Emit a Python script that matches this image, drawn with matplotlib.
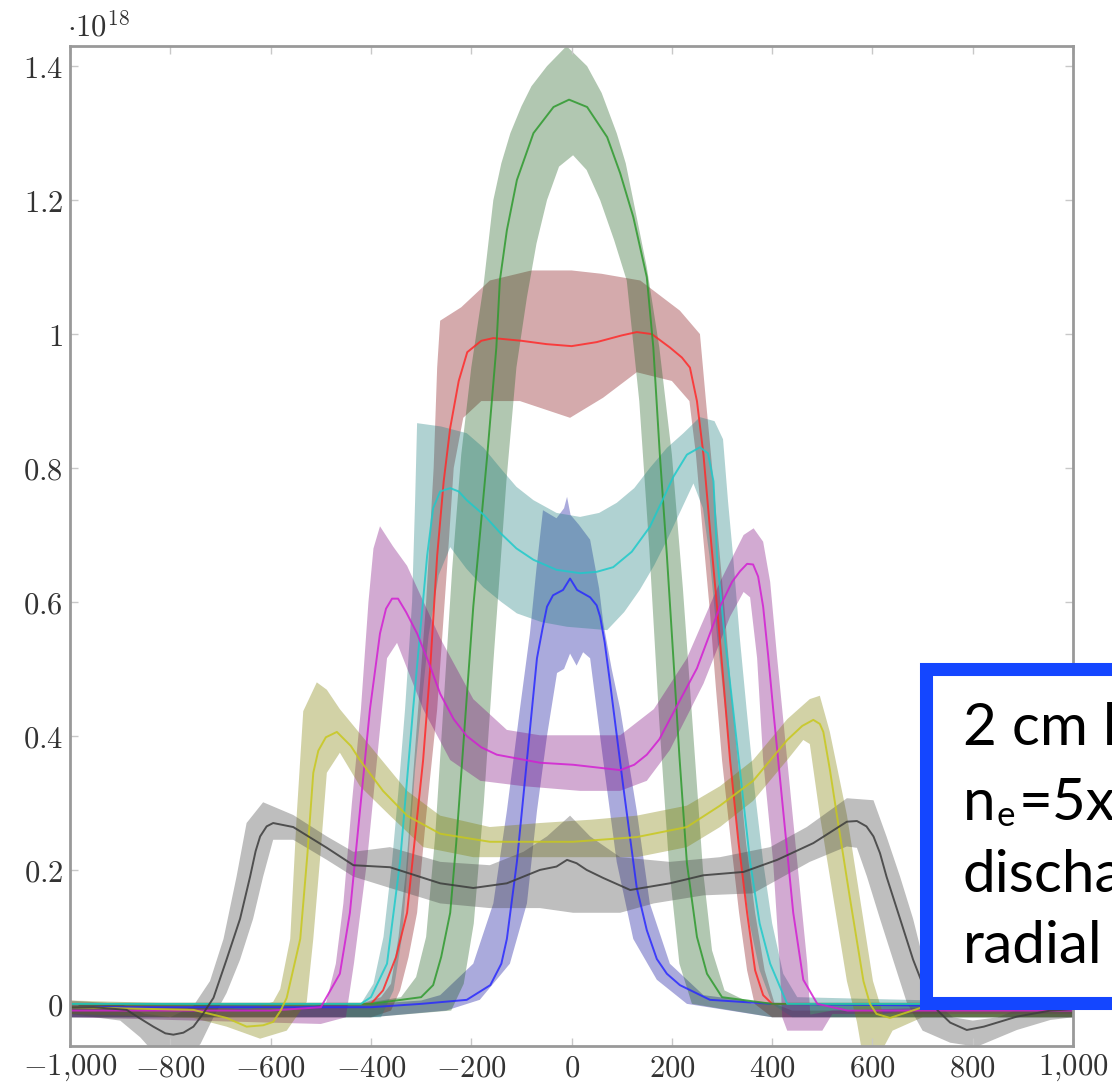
import matplotlib
matplotlib.use("Agg")
import matplotlib.pyplot as plt
from matplotlib.patches import Rectangle

plt.rcParams['mathtext.fontset'] = 'cm'

# radial position (x) and density (units of 1e18)
# each series: mean line, upper edge and lower edge of the shaded band
blue_mean = [(-1000, -0.005), (-400, -0.005), (-300, 0.0), (-209, 0.006), (-162, 0.028), (-140, 0.06),
             (-129, 0.097), (-109, 0.212), (-89, 0.364), (-69, 0.516), (-58, 0.56), (-49, 0.593), (-37, 0.61),
             (-17, 0.618), (-3, 0.635), (11, 0.618), (37, 0.607), (50, 0.595), (57, 0.578), (66, 0.54),
             (77, 0.478), (103, 0.325), (130, 0.173), (150, 0.11), (170, 0.067), (190, 0.045), (216, 0.028),
             (276, 0.006), (400, 0.0), (1000, -0.005)]
blue_upper = [(-1000, 0.0), (-400, 0.0), (-300, 0.005), (-262, 0.013), (-196, 0.06), (-156, 0.15), (-129, 0.288),
              (-103, 0.44), (-83, 0.553), (-70, 0.65), (-57, 0.737), (-30, 0.725), (-15, 0.74), (-9, 0.757),
              (-2, 0.73), (15, 0.715), (37, 0.693), (55, 0.62), (63, 0.57), (80, 0.5), (97, 0.44), (130, 0.288),
              (156, 0.15), (196, 0.06), (263, 0.013), (400, 0.0), (1000, 0.0)]
blue_lower = [(-1000, -0.02), (-400, -0.02), (-250, -0.01), (-183, 0.006), (-123, 0.06), (-89, 0.15), (-69, 0.288),
              (-49, 0.4), (-29, 0.494), (-15, 0.5), (-3, 0.523), (10, 0.505), (23, 0.525), (37, 0.516), (50, 0.44),
              (63, 0.364), (90, 0.212), (123, 0.097), (170, 0.036), (230, 0.0), (400, -0.02), (1000, -0.02)]

red_mean = [(-1000, 0.0), (-400, 0.0), (-376, 0.02), (-350, 0.07), (-328, 0.136), (-312, 0.25), (-296, 0.364),
            (-282, 0.5), (-268, 0.669), (-255, 0.78), (-242, 0.86), (-225, 0.93), (-208, 0.973), (-180, 0.99),
            (-156, 0.994), (-100, 0.99), (-50, 0.985), (0, 0.982), (50, 0.988), (100, 0.998), (130, 1.003),
            (160, 1.0), (196, 0.98), (220, 0.965), (236, 0.95), (250, 0.9), (263, 0.82), (277, 0.7), (290, 0.593),
            (303, 0.48), (316, 0.364), (333, 0.24), (350, 0.136), (366, 0.05), (382, 0.013), (400, 0.0), (1000, 0.0)]
red_upper = [(-1000, 0.0), (-420, 0.0), (-380, 0.01), (-360, 0.03), (-345, 0.1), (-330, 0.2), (-310, 0.4),
             (-290, 0.6), (-275, 0.8), (-268, 0.95), (-262, 1.02), (-220, 1.04), (-163, 1.08), (-80, 1.095),
             (0, 1.095), (60, 1.09), (137, 1.08), (216, 1.035), (256, 1.0), (268, 0.9), (278, 0.82), (292, 0.7),
             (305, 0.59), (318, 0.47), (332, 0.36), (348, 0.24), (366, 0.136), (385, 0.05), (405, 0.0),
             (440, -0.01), (1000, -0.01)]
red_lower = [(-1000, -0.02), (-400, -0.02), (-360, -0.01), (-342, 0.02), (-325, 0.07), (-308, 0.136), (-290, 0.28),
             (-268, 0.44), (-248, 0.654), (-235, 0.8), (-216, 0.875), (-180, 0.9), (-103, 0.9), (-3, 0.875),
             (63, 0.905), (130, 0.943), (200, 0.93), (235, 0.9), (248, 0.82), (262, 0.7), (275, 0.593),
             (288, 0.47), (300, 0.364), (318, 0.24), (334, 0.136), (350, 0.05), (365, 0.0), (400, -0.02),
             (1000, -0.02)]

green_mean = [(-1000, 0.0), (-400, 0.0), (-300, 0.01), (-276, 0.028), (-260, 0.07), (-242, 0.136), (-230, 0.24),
              (-218, 0.364), (-196, 0.593), (-168, 0.82), (-150, 0.98), (-143, 1.08), (-129, 1.155),
              (-109, 1.23), (-76, 1.30), (-36, 1.339), (-5, 1.35), (31, 1.339), (71, 1.294), (97, 1.24),
              (123, 1.175), (150, 1.085), (163, 0.98), (176, 0.82), (190, 0.67), (203, 0.516), (215, 0.37),
              (230, 0.21), (250, 0.1), (270, 0.045), (300, 0.01), (400, 0.0), (1000, 0.0)]
green_upper = [(-1000, 0.0), (-420, 0.0), (-340, 0.01), (-310, 0.04), (-290, 0.1), (-272, 0.25), (-255, 0.45),
               (-238, 0.65), (-220, 0.82), (-200, 0.95), (-176, 1.07), (-156, 1.2), (-140, 1.255), (-122, 1.3),
               (-100, 1.34), (-80, 1.37), (-49, 1.40), (-10, 1.43), (31, 1.40), (60, 1.36), (90, 1.30),
               (108, 1.255), (123, 1.2), (150, 1.1), (175, 0.98), (200, 0.82), (222, 0.62), (243, 0.4),
               (262, 0.2), (280, 0.08), (305, 0.02), (360, 0.0), (1000, 0.0)]
green_lower = [(-1000, -0.02), (-400, -0.02), (-240, -0.01), (-215, 0.03), (-195, 0.12), (-175, 0.3),
               (-155, 0.52), (-130, 0.78), (-110, 0.95), (-89, 1.055), (-70, 1.135), (-49, 1.2), (-25, 1.25),
               (3, 1.267), (30, 1.245), (57, 1.2), (85, 1.14), (110, 1.08), (135, 0.9), (155, 0.68), (175, 0.42),
               (195, 0.2), (215, 0.06), (240, 0.0), (400, -0.02), (1000, -0.02)]

cyan_mean = [(-1000, 0.0), (-420, 0.0), (-400, 0.01), (-368, 0.06), (-342, 0.212), (-316, 0.44), (-300, 0.57),
             (-288, 0.669), (-276, 0.74), (-262, 0.765), (-242, 0.77), (-225, 0.765), (-209, 0.752),
             (-175, 0.73), (-142, 0.703), (-110, 0.68), (-76, 0.663), (-30, 0.648), (17, 0.643), (50, 0.645),
             (83, 0.652), (120, 0.675), (156, 0.712), (180, 0.75), (203, 0.787), (230, 0.82), (256, 0.831),
             (272, 0.822), (283, 0.78), (290, 0.669), (305, 0.55), (322, 0.44), (340, 0.32), (356, 0.212),
             (375, 0.12), (396, 0.06), (430, 0.0), (1000, 0.0)]
cyan_upper = [(-1000, 0.0), (-420, 0.0), (-395, 0.03), (-375, 0.1), (-358, 0.212), (-345, 0.32), (-332, 0.44),
              (-318, 0.6), (-312, 0.75), (-308, 0.867), (-260, 0.862), (-209, 0.852), (-175, 0.83), (-142, 0.8),
              (-110, 0.772), (-76, 0.752), (-30, 0.733), (17, 0.727), (55, 0.733), (90, 0.748), (125, 0.77),
              (156, 0.8), (190, 0.83), (223, 0.852), (256, 0.876), (285, 0.87), (302, 0.843), (312, 0.75),
              (322, 0.669), (335, 0.55), (349, 0.44), (365, 0.32), (382, 0.212), (400, 0.12), (422, 0.045),
              (450, 0.01), (1000, 0.0)]
cyan_lower = [(-1000, -0.02), (-380, -0.02), (-355, 0.02), (-338, 0.1), (-326, 0.212), (-312, 0.35), (-300, 0.44),
              (-285, 0.55), (-265, 0.64), (-242, 0.682), (-210, 0.65), (-176, 0.622), (-140, 0.6), (-109, 0.583),
              (-60, 0.57), (-9, 0.563), (71, 0.558), (105, 0.585), (136, 0.618), (165, 0.655), (190, 0.692),
              (220, 0.74), (243, 0.777), (262, 0.74), (275, 0.669), (290, 0.55), (306, 0.44), (322, 0.32),
              (338, 0.212), (355, 0.12), (375, 0.05), (400, 0.0), (440, -0.02), (1000, -0.02)]

magenta_mean = [(-1000, -0.01), (-600, -0.01), (-500, -0.005), (-462, 0.045), (-442, 0.136), (-422, 0.288),
                (-402, 0.44), (-382, 0.553), (-370, 0.59), (-358, 0.605), (-346, 0.605), (-330, 0.585),
                (-308, 0.553), (-285, 0.51), (-262, 0.463), (-235, 0.425), (-209, 0.4), (-180, 0.383),
                (-149, 0.372), (-63, 0.36), (3, 0.357), (97, 0.349), (125, 0.357), (150, 0.372), (175, 0.395),
                (196, 0.425), (250, 0.501), (296, 0.593), (320, 0.63), (336, 0.646), (350, 0.657), (362, 0.656),
                (372, 0.638), (382, 0.593), (392, 0.52), (402, 0.44), (422, 0.288), (442, 0.136), (462, 0.036),
                (490, 0.0), (550, -0.01), (1000, -0.01)]
magenta_upper = [(-1000, 0.0), (-560, -0.01), (-490, 0.0), (-470, 0.06), (-455, 0.15), (-438, 0.3),
                 (-420, 0.44), (-405, 0.6), (-395, 0.68), (-382, 0.713), (-356, 0.683), (-328, 0.654),
                 (-262, 0.546), (-196, 0.455), (-129, 0.409), (-63, 0.401), (17, 0.401), (97, 0.401), (164, 0.44),
                 (230, 0.516), (296, 0.63), (343, 0.7), (363, 0.71), (382, 0.69), (396, 0.63), (410, 0.516),
                 (430, 0.364), (450, 0.212), (470, 0.06), (476, -0.016), (520, -0.01), (1000, 0.0)]
magenta_lower = [(-1000, -0.02), (-500, -0.03), (-450, -0.02), (-434, 0.06), (-408, 0.212), (-388, 0.364),
                 (-368, 0.516), (-348, 0.539), (-296, 0.44), (-242, 0.364), (-182, 0.333), (-96, 0.325),
                 (17, 0.318), (97, 0.318), (150, 0.333), (196, 0.379), (263, 0.478), (316, 0.578), (343, 0.615),
                 (356, 0.607), (370, 0.516), (382, 0.364), (402, 0.212), (415, 0.06), (420, -0.02), (430, -0.04),
                 (500, -0.04), (520, -0.015), (1000, -0.015)]

yellow_mean = [(-1000, -0.005), (-754, -0.009), (-688, -0.021), (-648, -0.034), (-615, -0.032), (-595, -0.027),
               (-580, -0.01), (-568, 0.009), (-541, 0.097), (-527, 0.221), (-515, 0.345), (-505, 0.378),
               (-490, 0.398), (-468, 0.406), (-440, 0.385), (-422, 0.364), (-376, 0.318), (-328, 0.281),
               (-262, 0.254), (-163, 0.242), (3, 0.242), (130, 0.249), (230, 0.264), (296, 0.296), (362, 0.333),
               (430, 0.394), (460, 0.415), (482, 0.424), (495, 0.418), (502, 0.406), (515, 0.35), (529, 0.282),
               (555, 0.158), (582, 0.034), (595, 0.0), (608, -0.015), (635, -0.021), (700, -0.005), (1000, -0.005)]
yellow_upper = [(-1000, 0.005), (-754, 0.0), (-648, -0.01), (-595, 0.003), (-581, 0.022), (-561, 0.097),
                (-548, 0.282), (-535, 0.437), (-508, 0.48), (-488, 0.469), (-462, 0.44), (-395, 0.379),
                (-328, 0.318), (-262, 0.281), (-163, 0.264), (-63, 0.27), (40, 0.275), (130, 0.281), (230, 0.296),
                (296, 0.325), (362, 0.364), (430, 0.425), (475, 0.455), (495, 0.46), (515, 0.406), (549, 0.282),
                (575, 0.158), (601, 0.034), (621, -0.015), (660, -0.01), (1000, 0.0)]
yellow_lower = [(-1000, -0.015), (-754, -0.021), (-688, -0.034), (-621, -0.052), (-568, -0.04), (-528, 0.003),
                (-515, 0.097), (-501, 0.221), (-488, 0.345), (-462, 0.375), (-422, 0.325), (-362, 0.281),
                (-296, 0.234), (-196, 0.219), (3, 0.219), (130, 0.219), (230, 0.234), (296, 0.264), (362, 0.303),
                (430, 0.364), (462, 0.394), (475, 0.388), (495, 0.282), (522, 0.158), (549, 0.034), (569, -0.027),
                (580, -0.075), (615, -0.075), (640, -0.04), (700, -0.02), (1000, -0.02)]

black_mean = [(-1000, -0.005), (-953, -0.005), (-887, -0.009), (-860, -0.022), (-834, -0.034), (-810, -0.044),
              (-794, -0.046), (-774, -0.043), (-754, -0.034), (-735, -0.015), (-714, 0.009), (-688, 0.066),
              (-661, 0.127), (-641, 0.19), (-630, 0.228), (-621, 0.25), (-608, 0.265), (-595, 0.27),
              (-555, 0.264), (-488, 0.233), (-435, 0.207), (-362, 0.204), (-262, 0.18), (-196, 0.173),
              (-129, 0.18), (-63, 0.2), (-30, 0.205), (-9, 0.215), (10, 0.21), (30, 0.2), (63, 0.188), (117, 0.17),
              (196, 0.18), (263, 0.192), (343, 0.197), (410, 0.215), (482, 0.24), (549, 0.272), (569, 0.273),
              (588, 0.265), (602, 0.25), (615, 0.225), (628, 0.19), (655, 0.127), (681, 0.066), (705, 0.02),
              (730, -0.01), (755, -0.028), (788, -0.039), (822, -0.034), (888, -0.019), (955, -0.01),
              (1000, -0.008)]
black_upper = [(-1000, 0.005), (-900, 0.0), (-850, -0.015), (-800, -0.02), (-754, -0.003), (-721, 0.034),
               (-694, 0.097), (-668, 0.19), (-648, 0.27), (-615, 0.301), (-555, 0.282), (-488, 0.25),
               (-435, 0.227), (-362, 0.234), (-262, 0.212), (-163, 0.207), (-96, 0.227), (-49, 0.25), (-3, 0.281),
               (37, 0.25), (97, 0.219), (196, 0.212), (296, 0.219), (396, 0.234), (469, 0.264), (549, 0.307),
               (602, 0.304), (628, 0.25), (655, 0.19), (681, 0.127), (708, 0.046), (730, 0.0), (760, -0.02),
               (800, -0.025), (850, -0.02), (900, -0.005), (1000, 0.0)]
black_lower = [(-1000, -0.015), (-900, -0.025), (-860, -0.05), (-830, -0.075), (-760, -0.075), (-740, -0.06),
               (-714, -0.02), (-688, 0.016), (-661, 0.066), (-635, 0.127), (-615, 0.19), (-595, 0.245),
               (-555, 0.245), (-488, 0.215), (-435, 0.19), (-362, 0.173), (-262, 0.15), (-163, 0.143),
               (-63, 0.143), (3, 0.136), (97, 0.136), (164, 0.15), (263, 0.162), (362, 0.165), (475, 0.212),
               (549, 0.235), (569, 0.233), (589, 0.19), (615, 0.127), (641, 0.066), (668, 0.003), (700, -0.04),
               (755, -0.058), (808, -0.064), (888, -0.039), (955, -0.024), (1000, -0.02)]

series = [
    (blue_mean, blue_upper, blue_lower, '#2a2aff', '#0c0c9b'),
    (red_mean, red_upper, red_lower, '#ff2a2a', '#840c12'),
    (green_mean, green_upper, green_lower, '#2f9a2f', '#205f20'),
    (cyan_mean, cyan_upper, cyan_lower, '#1fcaca', '#1d7e7e'),
    (magenta_mean, magenta_upper, magenta_lower, '#d21fd2', '#7e0c7e'),
    (yellow_mean, yellow_upper, yellow_lower, '#c8c81e', '#7e7e00'),
    (black_mean, black_upper, black_lower, '#3c3c3c', '#454545'),
]

x_ticks = [-1000, -800, -600, -400, -200, 0, 200, 400, 600, 800, 1000]
x_tick_labels = [r'$-1{,}000$', r'$-800$', r'$-600$', r'$-400$', r'$-200$', r'$0$',
                 r'$200$', r'$400$', r'$600$', r'$800$', r'$1{,}000$']
y_ticks = [0, 0.2, 0.4, 0.6, 0.8, 1.0, 1.2, 1.4]
y_tick_labels = [r'$0$', r'$0.2$', r'$0.4$', r'$0.6$', r'$0.8$', r'$1$', r'$1.2$', r'$1.4$']

fig = plt.figure(figsize=(11.12, 10.84), dpi=100)
ax = fig.add_axes([0.063, 0.035, 0.902, 0.9225])

for mean, upper, lower, line_c, fill_c in series:
    poly_x = [p[0] for p in upper] + [p[0] for p in lower[::-1]]
    poly_y = [p[1] for p in upper] + [p[1] for p in lower[::-1]]
    ax.fill(poly_x, poly_y, color=fill_c, alpha=0.35, linewidth=0)
    ax.plot([p[0] for p in mean], [p[1] for p in mean], color=line_c, lw=1.4, alpha=0.85)

ax.set_xlim(-1000, 1000)
ax.set_ylim(-0.063, 1.43)
ax.set_xticks(x_ticks)
ax.set_xticklabels(x_tick_labels, fontsize=22)
ax.set_yticks(y_ticks)
ax.set_yticklabels(y_tick_labels, fontsize=22)
ax.tick_params(direction='in', length=6, width=1, color='#c8c8c8', top=True, right=True,
               labelcolor='#333333', pad=5)
for s in ax.spines.values():
    s.set_color('#999999')
    s.set_linewidth(2)

ax.text(-0.003, 1.004, r'$\cdot 10^{18}$', transform=ax.transAxes, fontsize=22,
        color='#333333', ha='left', va='bottom')

# annotation box on the right, cut off by the image edge
box = Rectangle((0.8323, 0.0743), 0.3, 0.309, transform=fig.transFigure, facecolor='white',
                edgecolor='#1446ff', linewidth=9.4, zorder=10, clip_on=False)
fig.add_artist(box)
tx = 963 / 1112
fs = 42
fig.text(tx, 1 - 745 / 1084, '2 cm l', fontsize=fs, family='Lato', zorder=11, va='baseline')
fig.text(tx, 1 - 820 / 1084, 'n', fontsize=fs, family='Lato', zorder=11, va='baseline')
fig.text(tx + 34 / 1112, 1 - 826 / 1084, 'e', fontsize=fs * 0.6, family='Lato', zorder=11, va='baseline')
fig.text(tx + 56 / 1112, 1 - 820 / 1084, '=5x', fontsize=fs, family='Lato', zorder=11, va='baseline')
fig.text(tx, 1 - 892 / 1084, 'discha', fontsize=fs, family='Lato', zorder=11, va='baseline')
fig.text(tx, 1 - 963 / 1084, 'radial', fontsize=fs, family='Lato', zorder=11, va='baseline')

fig.savefig('out.png', dpi=100)
